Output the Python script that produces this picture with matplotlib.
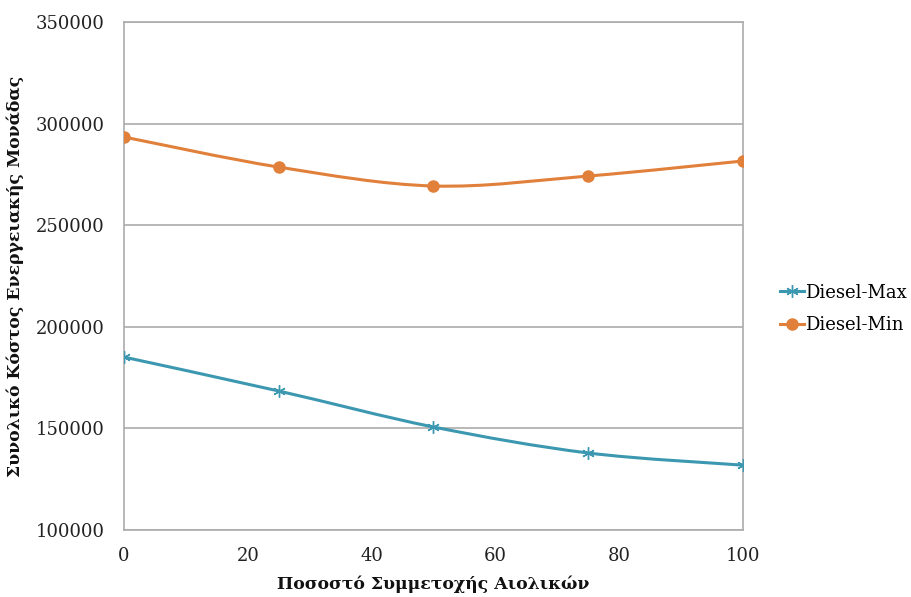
import numpy as np
import matplotlib
matplotlib.use("Agg")
import matplotlib.pyplot as plt
from matplotlib.path import Path
from matplotlib.patches import PathPatch
from matplotlib.lines import Line2D

x_vals = [0, 25, 50, 75, 100]
diesel_max = [185100, 168400, 150700, 137900, 131900]
diesel_min = [293400, 278600, 269300, 274200, 281600]
series_names = ["Diesel-Max", "Diesel-Min"]
y_ticks = [100000, 150000, 200000, 250000, 300000, 350000]
x_ticks = [0, 20, 40, 60, 80, 100]
xlabel = "Ποσοστό Συμμετοχής Αιολικών"
ylabel = "Συνολικό Κόστος Ενεργειακής Μονάδας"

c_max = "#3C98B0"
c_min = "#E0803A"
grid_c = "#ABABAB"

plt.rcParams['font.family'] = ['DejaVu Serif']

fig = plt.figure(figsize=(9.12, 5.97), dpi=100)
ax = fig.add_axes([124/912, 1-530/597, (743-124)/912, (530-22)/597])


def smooth_path(xs, ys):
    xs = np.asarray(xs, float); ys = np.asarray(ys, float)
    n = len(xs)
    verts = [(xs[0], ys[0])]
    codes = [Path.MOVETO]
    for i in range(n - 1):
        p0 = np.array([xs[max(i-1, 0)], ys[max(i-1, 0)]])
        p1 = np.array([xs[i], ys[i]])
        p2 = np.array([xs[i+1], ys[i+1]])
        p3 = np.array([xs[min(i+2, n-1)], ys[min(i+2, n-1)]])
        c1 = p1 + (p2 - p0) / 6.0
        c2 = p2 - (p3 - p1) / 6.0
        verts += [tuple(c1), tuple(c2), tuple(p2)]
        codes += [Path.CURVE4] * 3
    return Path(verts, codes)

ast = (6, 2, 0)
for ys, col, mk, ms in [(diesel_max, c_max, ast, 9), (diesel_min, c_min, 'o', 8)]:
    ax.add_patch(PathPatch(smooth_path(x_vals, ys), fill=False, edgecolor=col, lw=2.2, zorder=3))
    ax.plot(x_vals, ys, linestyle='none', marker=mk, markersize=ms, color=col,
            markeredgecolor=col, markeredgewidth=1.0, zorder=4)

ax.set_xlim(0, 100)
ax.set_ylim(100000, 350000)
ax.set_xticks(x_ticks)
ax.set_yticks(y_ticks)
ax.set_xticklabels([str(v) for v in x_ticks], fontsize=13)
ax.set_yticklabels([str(v) for v in y_ticks], fontsize=13)
ax.tick_params(axis='y', length=0, pad=14, colors="#222222")
ax.tick_params(axis='x', length=0, pad=12, colors="#222222")
ax.yaxis.grid(True, color=grid_c, lw=1.2)
ax.set_axisbelow(True)
for s in ['left', 'right', 'bottom', 'top']:
    ax.spines[s].set_color(grid_c)
    ax.spines[s].set_linewidth(1.2)

ax.set_xlabel(xlabel, fontsize=12.4, fontweight='bold', labelpad=8, color="#111111")
ax.set_ylabel(ylabel, fontsize=12.4, fontweight='bold', labelpad=8, color="#111111")

handles = [Line2D([], [], color=c_max, lw=2.2, marker=ast, markersize=9, markeredgewidth=1.0),
           Line2D([], [], color=c_min, lw=2.2, marker='o', markersize=8)]
fig.legend(handles, series_names, loc='center left', bbox_to_anchor=(773/912, 1-309/597),
           frameon=False, fontsize=13, handlelength=1.3, handletextpad=0.1, labelspacing=0.8,
           borderpad=0.4, borderaxespad=0)

fig.savefig("out.png", dpi=100)
